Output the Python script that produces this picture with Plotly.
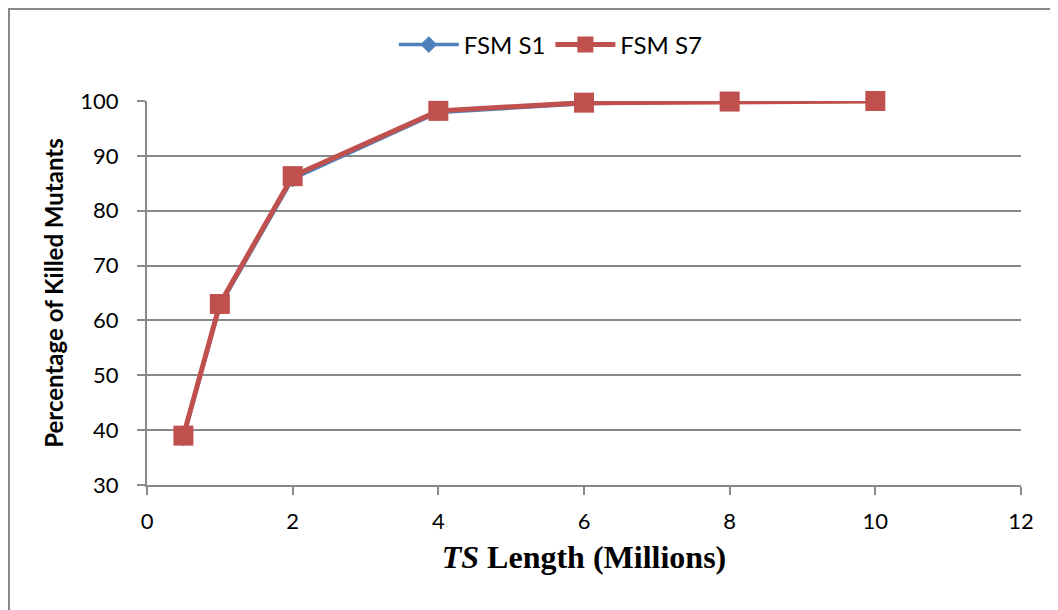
import plotly.graph_objects as go

ts_length = [0.5, 1, 2, 4, 6, 8, 10]
fsm_s1 = [38.6, 62.6, 85.8, 97.9, 99.5, 99.9, 99.95]
fsm_s7 = [39.0, 63.0, 86.3, 98.2, 99.7, 99.9, 100.0]
x_ticks = [0, 2, 4, 6, 8, 10, 12]
y_ticks = [30, 40, 50, 60, 70, 80, 90, 100]

W, H = 1058, 610
L, R, T, B = 139, 45, 93, 133
PW, PH = W - L - R, H - T - B

fig = go.Figure()
fig.add_trace(go.Scatter(
    x=ts_length, y=fsm_s1, name="FSM S1", mode="lines+markers",
    line=dict(color="#4F81BD", width=3.5),
    marker=dict(symbol="diamond", size=13, color="#4F81BD"),
    cliponaxis=False,
))
fig.add_trace(go.Scatter(
    x=ts_length, y=fsm_s7, name="FSM S7", mode="lines+markers",
    line=dict(color="#C0504D", width=5),
    marker=dict(symbol="square", size=20, color="#C0504D"),
    cliponaxis=False,
))

fig.update_layout(
    width=W, height=H,
    margin=dict(l=L, r=R, t=T, b=B, autoexpand=False),
    paper_bgcolor="white", plot_bgcolor="white",
    font=dict(family="Lato, Open Sans, sans-serif", color="#000000", size=21),
    legend=dict(orientation="h", x=0.462, xanchor="center", y=1 - 37 / H, yanchor="middle",
                yref="container", font=dict(size=24), itemwidth=60,
                bgcolor="rgba(0,0,0,0)"),
    showlegend=True,
)
fig.update_xaxes(
    range=[0, 12], tickvals=x_ticks, showgrid=False, zeroline=False,
    showline=True, linecolor="#888888", linewidth=2,
    ticks="outside", ticklen=8, tickcolor="#888888", tickwidth=2,
    tickfont=dict(size=22), ticklabelstandoff=8,
    title=dict(text="<b><i>TS</i> Length (Millions)</b>",
               font=dict(family="Liberation Serif, Times New Roman, serif", size=32),
               standoff=12),
)
fig.update_yaxes(
    range=[30, 100], tickvals=y_ticks, showgrid=True, gridcolor="#888888", gridwidth=2,
    zeroline=False, showline=True, linecolor="#888888", linewidth=2,
    ticks="outside", ticklen=8, tickcolor="#888888", tickwidth=2,
    tickfont=dict(size=22), ticklabelstandoff=14,
    title=dict(text="<b>Percentage of Killed Mutants</b>", font=dict(size=24), standoff=10),
)
fig.add_shape(type="rect", xref="paper", yref="paper",
              x0=(-L + 1) / PW, x1=(W - L + 20) / PW,
              y0=-(B + 20) / PH, y1=1 + (T - 1) / PH,
              line=dict(color="#888888", width=2), fillcolor="rgba(0,0,0,0)", layer="below")

fig.write_html("out.html")
